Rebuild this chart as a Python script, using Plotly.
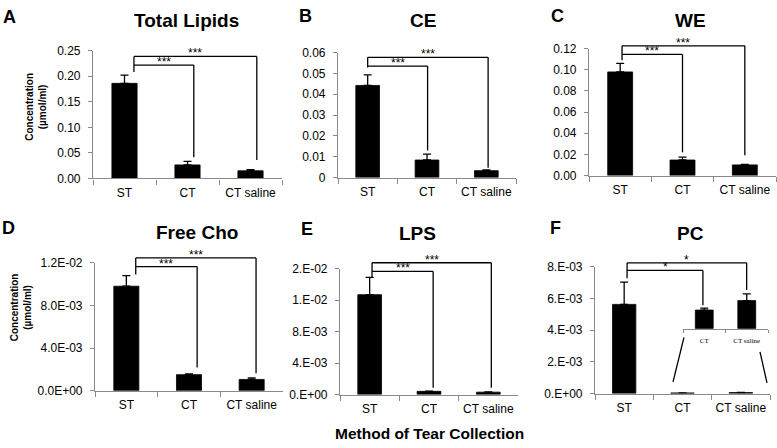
import plotly.graph_objects as go

W, H = 777, 448

# ---------------- data ----------------
categories = ["ST", "CT", "CT saline"]
inset_categories = ["CT", "CT saline"]

total_lipids = [0.186, 0.0265, 0.015]
total_lipids_err = [0.016, 0.007, 0.002]
ce = [0.0442, 0.0084, 0.0033]
ce_err = [0.0051, 0.0028, 0.0004]
we = [0.098, 0.0147, 0.0101]
we_err = [0.008, 0.0027, 0.0004]
free_cho = [0.0098, 0.00150, 0.00105]
free_cho_err = [0.0010, 0.00008, 0.00015]
lps = [0.01268, 0.0004, 0.0003]
lps_err = [0.0022, 0.00003, 0.00003]
pc = [0.00562, 0.000041, 0.000062]
pc_err = [0.0014, 0.0000043, 0.000015]

titles = ["Total Lipids", "CE", "WE", "Free Cho", "LPS", "PC"]
letters = ["A", "B", "C", "D", "E", "F"]

ytick_vals = [
    [0, 0.05, 0.10, 0.15, 0.20, 0.25],
    [0, 0.01, 0.02, 0.03, 0.04, 0.05, 0.06],
    [0, 0.02, 0.04, 0.06, 0.08, 0.10, 0.12],
    [0, 0.004, 0.008, 0.012],
    [0, 0.004, 0.008, 0.012, 0.016],
    [0, 0.002, 0.004, 0.006, 0.008],
]
ytick_text = [
    ["0.00", "0.05", "0.10", "0.15", "0.20", "0.25"],
    ["0", "0.01", "0.02", "0.03", "0.04", "0.05", "0.06"],
    ["0.00", "0.02", "0.04", "0.06", "0.08", "0.10", "0.12"],
    ["0.0E+00", "4.0E-03", "8.0E-03", "1.2E-02"],
    ["0.E+00", "4.E-03", "8.E-03", "1.E-02", "2.E-02"],
    ["0.E+00", "2.E-03", "4.E-03", "6.E-03", "8.E-03"],
]

# significance brackets (category positions, data heights)
sig_labels = ["***", "***", "***", "***", "***", "*"]
bracket_left = [0.15, 0.0, 0.03, 0.15, 0.04, 0.05]
bracket_inner_right = [1.10, 1.01, 1.0, 1.13, 1.07, 1.35]
bracket_outer_right = [2.10, 2.03, 2.0, 2.07, 2.05, 2.10]
bracket_outer_y = [0.2386, 0.0577, 0.1227, 0.01245, 0.01674, 0.00824]
bracket_inner_y = [0.2216, 0.0535, 0.1145, 0.01164, 0.01563, 0.00776]
bracket_left_bottom = [0.2083, 0.0528, 0.109, 0.0109, 0.0149, 0.00727]
bracket_inner_bottom = [0.0417, 0.013, 0.022, 0.00218, 0.00086, 0.00556]
bracket_outer_bottom = [0.036, 0.00465, 0.0192, 0.00164, 0.00086, 0.00653]

values = [total_lipids, ce, we, free_cho, lps, pc]
errors = [total_lipids_err, ce_err, we_err, free_cho_err, lps_err, pc_err]

# ---------------- layout geometry (pixels) ----------------
# (x_left, x_right, y_top, y_bottom)
panel_px = [
    (93, 282, 45, 177),
    (338, 516, 47, 176),
    (589, 776, 43, 174),
    (95, 283, 264, 396),
    (340, 518, 270, 400),
    (595, 770, 268, 399),
]
inset_px = (683, 768, 290, 332)
title_px = [(186, 14), (423, 14), (690, 14), (197, 233), (418, 234), (690, 234)]
letter_px = [(9, 10), (305, 9), (557, 9), (8, 228), (307, 229), (555, 228)]
ytitle_px = [(36, 103), (21, 310)]

FONT = "Liberation Sans"
AXCOL = "#8a8a8a"


def px_x(x):
    return x / W


def px_y(y):
    return 1 - y / H


fig = go.Figure()
layout = dict(
    width=W, height=H, autosize=False,
    margin=dict(l=0, r=0, t=0, b=0),
    paper_bgcolor="white", plot_bgcolor="white",
    showlegend=False,
)
shapes = []
annotations = []

for i in range(6):
    n = i + 1
    sx = "" if n == 1 else str(n)
    xa, ya = "x" + sx, "y" + sx
    x0, x1, yt, yb = panel_px[i]
    ymax = ytick_vals[i][-1]
    fig.add_trace(go.Bar(
        x=categories, y=values[i], xaxis=xa, yaxis=ya,
        width=0.4,
        marker=dict(color="black", line=dict(color="black", width=0.8)),
        error_y=dict(type="data", array=errors[i], arrayminus=[0, 0, 0],
                     symmetric=False, color="black", thickness=1.3, width=4),
        cliponaxis=False,
    ))
    layout["xaxis" + sx] = dict(
        domain=[px_x(x0), px_x(x1)], anchor=ya,
        type="category", range=[-0.5, 2.5],
        showline=True, linecolor=AXCOL, linewidth=1.2,
        ticks="outside", tickson="boundaries", ticklen=5, tickcolor=AXCOL,
        showgrid=False, zeroline=False, tickangle=0,
        tickfont=dict(family=FONT, size=12, color="black"),
        ticklabelstandoff=3, fixedrange=True,
    )
    layout["yaxis" + sx] = dict(
        domain=[px_y(yb), px_y(yt)], anchor=xa,
        range=[0, ymax],
        tickvals=ytick_vals[i], ticktext=ytick_text[i],
        showline=True, linecolor=AXCOL, linewidth=1.2,
        ticks="outside", ticklen=4, tickcolor=AXCOL,
        showgrid=False, zeroline=False,
        tickfont=dict(family=FONT, size=12, color="black"),
        ticklabelstandoff=5, fixedrange=True,
    )

    # brackets, drawn in axis-domain coordinates derived from data values
    xr, yr = xa + " domain", ya + " domain"

    def xd(p):
        return (p + 0.5) / 3

    def yd(v, ymax=ymax):
        return v / ymax

    L = bracket_left[i]
    segs = [
        (L, bracket_left_bottom[i], L, bracket_outer_y[i]),
        (L, bracket_outer_y[i], bracket_outer_right[i], bracket_outer_y[i]),
        (bracket_outer_right[i], bracket_outer_y[i], bracket_outer_right[i], bracket_outer_bottom[i]),
        (L, bracket_inner_y[i], bracket_inner_right[i], bracket_inner_y[i]),
        (bracket_inner_right[i], bracket_inner_y[i], bracket_inner_right[i], bracket_inner_bottom[i]),
    ]
    for (a, b, c, d) in segs:
        shapes.append(dict(type="line", xref=xr, yref=yr,
                           x0=xd(a), y0=yd(b), x1=xd(c), y1=yd(d),
                           line=dict(color="black", width=1.3)))
    for (right, hy) in [(bracket_inner_right[i], bracket_inner_y[i]),
                        (bracket_outer_right[i], bracket_outer_y[i])]:
        annotations.append(dict(
            xref=xr, yref=yr, x=xd((L + right) / 2), y=yd(hy),
            text=sig_labels[i], showarrow=False, xanchor="center", yanchor="bottom",
            yshift=-6, font=dict(family=FONT, size=12, color="black")))

    # titles and panel letters
    tx, ty = title_px[i]
    annotations.append(dict(xref="paper", yref="paper", x=px_x(tx), y=px_y(ty),
                            text="<b>%s</b>" % titles[i], showarrow=False,
                            xanchor="center", yanchor="middle",
                            font=dict(family=FONT, size=19, color="black")))
    lx, ly = letter_px[i]
    annotations.append(dict(xref="paper", yref="paper", x=px_x(lx), y=px_y(ly),
                            text="<b>%s</b>" % letters[i], showarrow=False,
                            xanchor="center", yanchor="middle",
                            font=dict(family=FONT, size=18, color="black")))

# ---------------- inset in panel F ----------------
ix0, ix1, iyt, iyb = inset_px
fig.add_trace(go.Bar(
    x=inset_categories, y=pc[1:], xaxis="x7", yaxis="y7", width=0.42,
    marker=dict(color="black", line=dict(color="black", width=0.8)),
    error_y=dict(type="data", array=pc_err[1:], arrayminus=[0, 0],
                 symmetric=False, color="black", thickness=1.3, width=4),
    cliponaxis=False,
))
layout["xaxis7"] = dict(
    domain=[px_x(ix0), px_x(ix1)], anchor="y7", type="category", range=[-0.5, 1.5],
    showline=True, linecolor=AXCOL, linewidth=1.2,
    ticks="outside", tickson="boundaries", ticklen=3, tickcolor=AXCOL,
    showgrid=False, zeroline=False, tickangle=0,
    tickfont=dict(family="Liberation Serif", size=7, color="black"),
    ticklabelstandoff=5, fixedrange=True,
)
layout["yaxis7"] = dict(
    domain=[px_y(iyb), px_y(iyt)], anchor="x7", range=[0, 0.00009],
    visible=False, fixedrange=True,
)
for (ax, ay, bx, by) in [(684, 341, 673, 387), (760, 356, 767, 388)]:
    shapes.append(dict(type="line", xref="paper", yref="paper",
                       x0=px_x(ax), y0=px_y(ay), x1=px_x(bx), y1=px_y(by),
                       line=dict(color="black", width=1.3)))

# ---------------- shared axis titles ----------------
for (cx, cy) in ytitle_px:
    annotations.append(dict(xref="paper", yref="paper", x=px_x(cx), y=px_y(cy),
                            text="<b>Concentration<br>(µmol/ml)</b>", showarrow=False,
                            textangle=-90, xanchor="center", yanchor="middle",
                            font=dict(family=FONT, size=10, color="black")))
annotations.append(dict(xref="paper", yref="paper", x=px_x(429), y=px_y(440),
                        text="<b>Method of Tear Collection</b>", showarrow=False,
                        xanchor="center", yanchor="middle",
                        font=dict(family=FONT, size=15.5, color="black")))

layout["shapes"] = shapes
layout["annotations"] = annotations
fig.update_layout(**layout)
fig.write_html("out.html", config={"displayModeBar": False},
               post_script="document.body.style.margin='0px';")
